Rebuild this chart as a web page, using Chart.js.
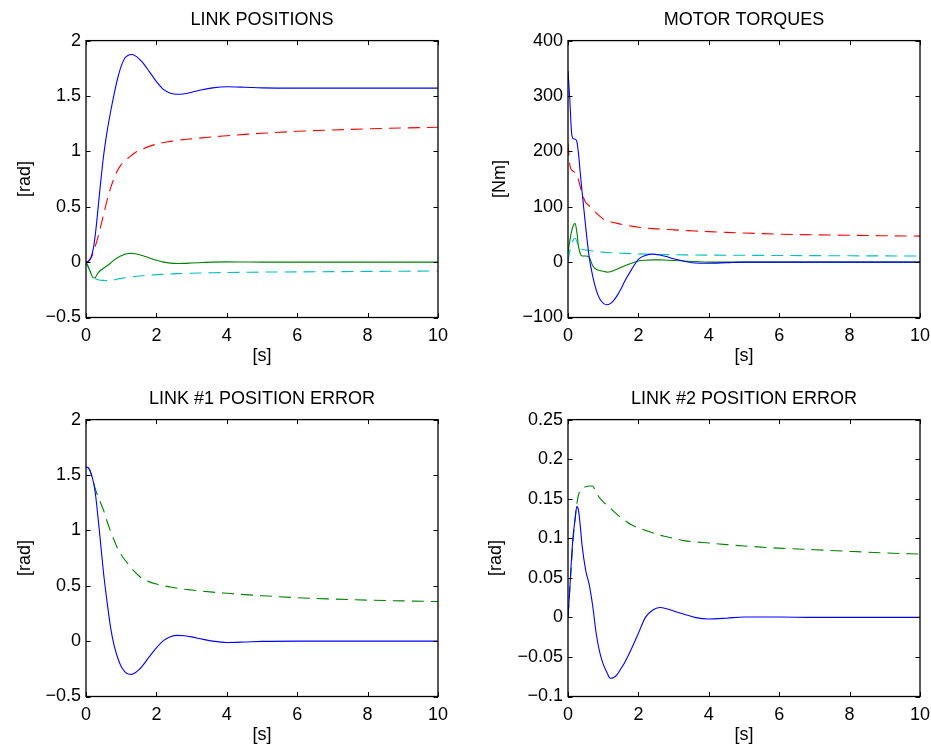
<!DOCTYPE html>
<html>
<head>
<meta charset="utf-8">
<script src="https://cdn.jsdelivr.net/npm/chart.js@4/dist/chart.umd.min.js"></script>
<style>
  html, body { margin: 0; padding: 0; background: #ffffff; }
  body { width: 931px; height: 747px; position: relative; overflow: hidden; }
  .cell { position: absolute; width: 449px; height: 368px; }
  .cell canvas { display: block; }
</style>
</head>
<body>
<div class="cell" style="left:0px;top:0px;"><canvas id="c1" width="449" height="368"></canvas></div>
<div class="cell" style="left:482px;top:0px;"><canvas id="c2" width="449" height="368"></canvas></div>
<div class="cell" style="left:0px;top:379px;"><canvas id="c3" width="449" height="368"></canvas></div>
<div class="cell" style="left:482px;top:379px;"><canvas id="c4" width="449" height="368"></canvas></div>
<script>
// ---------- DATA ----------
const time = [0,0.05,0.1,0.15,0.2,0.25,0.3,0.35,0.4,0.5,0.6,0.7,0.8,0.9,1.0,1.1,1.2,1.3,1.4,1.5,1.6,1.8,2.0,2.2,2.4,2.6,2.8,3.0,3.3,3.6,4.0,4.5,5,6,7,8,9,10];

const xTicks = [0,2,4,6,8,10];
const xTickLabels = ['0','2','4','6','8','10'];

// LINK POSITIONS [rad]
const linkPos1 = [0,0.005,0.02,0.05,0.11,0.21,0.35,0.51,0.67,0.96,1.18,1.36,1.52,1.66,1.77,1.84,1.868,1.874,1.862,1.838,1.805,1.72,1.63,1.56,1.525,1.515,1.52,1.534,1.556,1.573,1.583,1.579,1.573,1.571,1.571,1.571,1.571,1.571];
const linkPos1Ref = [0,0.003,0.015,0.04,0.08,0.13,0.18,0.24,0.30,0.43,0.56,0.67,0.76,0.83,0.88,0.91,0.94,0.965,0.99,1.005,1.02,1.045,1.065,1.08,1.09,1.10,1.107,1.113,1.122,1.131,1.141,1.153,1.163,1.181,1.193,1.203,1.211,1.218];
const linkPos2 = [0,-0.03,-0.07,-0.11,-0.14,-0.143,-0.12,-0.095,-0.078,-0.055,-0.033,-0.008,0.02,0.04,0.057,0.07,0.078,0.079,0.075,0.068,0.06,0.038,0.016,0.0,-0.009,-0.012,-0.011,-0.008,-0.004,0,0.002,0.001,0,0,0,0,0,0];
const linkPos2Ref = [0,-0.035,-0.07,-0.1,-0.125,-0.145,-0.155,-0.16,-0.163,-0.165,-0.167,-0.166,-0.16,-0.153,-0.147,-0.142,-0.137,-0.133,-0.13,-0.126,-0.123,-0.118,-0.113,-0.11,-0.107,-0.104,-0.102,-0.1,-0.098,-0.096,-0.094,-0.092,-0.09,-0.088,-0.086,-0.084,-0.082,-0.08];
const posYTicks = [-0.5,0,0.5,1,1.5,2];
const posYTickLabels = ['\u22120.5','0','0.5','1','1.5','2'];

// MOTOR TORQUES [Nm]
const torque1 = [345,295,235,223,222,218,195,160,127,65,10,-25,-50,-66,-74,-77,-75,-69,-60,-49,-36,-14,5,12,14.5,13,10,6,1.5,-1.5,-2,-1,0,0,0,0,0,0];
const torque1Ref = [214,176,167,164,162,157,148,136,124,108,102,96,89,83,78,75,73,71.5,70,68.5,67.5,65,63,61.5,60.5,59.8,59,58.3,57.3,56.3,55,53.7,52.5,50.5,49.3,48.4,47.6,47];
const torque2 = [18,38,55,66,70,55,28,15,11,11,9,-6,-13,-15,-16.5,-18,-17.5,-15,-12.5,-9.5,-7,-2,2,3.5,4,4,3.5,3,2,1,0,0,0,0,0,0,0,0];
const torque2Ref = [2,20,32,40,43,38,26,23.5,23,22,21,20,19,18.5,18,17.5,17,16.7,16.4,16.1,15.8,15.3,14.8,14.4,14.1,13.8,13.6,13.4,13.1,12.9,12.7,12.5,12.3,12,11.7,11.4,11.2,11];
const torqueYTicks = [-100,0,100,200,300,400];
const torqueYTickLabels = ['\u2212100','0','100','200','300','400'];

// LINK #1 POSITION ERROR [rad]
const err1 = [1.571,1.568,1.55,1.51,1.45,1.37,1.24,1.09,0.93,0.61,0.35,0.12,-0.04,-0.15,-0.23,-0.275,-0.297,-0.30,-0.285,-0.26,-0.225,-0.14,-0.06,0.005,0.04,0.052,0.048,0.038,0.018,0.0,-0.012,-0.008,-0.002,0,0,0,0,0];
const err1Ref = [1.571,1.566,1.55,1.5,1.45,1.39,1.34,1.30,1.26,1.18,1.08,0.99,0.91,0.835,0.78,0.735,0.695,0.655,0.62,0.59,0.565,0.535,0.515,0.50,0.488,0.477,0.468,0.461,0.451,0.442,0.432,0.42,0.41,0.392,0.38,0.37,0.363,0.357];
const err1YTicks = [-0.5,0,0.5,1,1.5,2];
const err1YTickLabels = ['\u22120.5','0','0.5','1','1.5','2'];

// LINK #2 POSITION ERROR [rad]
const err2 = [0,0.035,0.075,0.105,0.123,0.14,0.135,0.115,0.091,0.06,0.042,0.015,-0.02,-0.044,-0.059,-0.069,-0.077,-0.076,-0.072,-0.065,-0.058,-0.04,-0.02,0.0,0.009,0.0125,0.011,0.008,0.004,0.0,-0.002,-0.001,0.0005,0.0005,0,0,0,0];
const err2Ref = [0,0.035,0.068,0.1,0.125,0.143,0.155,0.16,0.163,0.165,0.166,0.166,0.158,0.151,0.146,0.142,0.138,0.134,0.13,0.126,0.123,0.117,0.113,0.11,0.107,0.104,0.102,0.1,0.097,0.0955,0.094,0.092,0.0903,0.0875,0.0855,0.0835,0.0815,0.08];
const err2YTicks = [-0.1,-0.05,0,0.05,0.1,0.15,0.2,0.25];
const err2YTickLabels = ['\u22120.1','\u22120.05','0','0.05','0.1','0.15','0.2','0.25'];

// ---------- RENDERING ----------
const FONT = '"Liberation Sans", Arial, Helvetica, sans-serif';
Chart.defaults.font.family = FONT;
Chart.defaults.font.size = 18;
Chart.defaults.color = '#000000';

const BLUE = '#0000ff', RED = '#ff0000', GREEN = '#008000', CYAN = '#00bfbf';

function pts(ys) { return time.map((t, i) => ({ x: t, y: ys[i] })); }

function series(ys, color, dashed) {
  return {
    data: pts(ys),
    borderColor: color,
    borderWidth: 1.1,
    borderDash: dashed ? [12, 7] : [],
    pointRadius: 0,
    cubicInterpolationMode: 'monotone',
    fill: false
  };
}

// MATLAB-style box with inward ticks on all four sides
const boxPlugin = {
  id: 'matlabBox',
  afterDatasetsDraw(chart) {
    const { ctx, chartArea: a, scales } = chart;
    const L = 4.5;
    ctx.save();
    ctx.strokeStyle = '#000000';
    ctx.lineWidth = 1;
    ctx.beginPath();
    scales.x.ticks.forEach(tk => {
      const px = Math.round(scales.x.getPixelForValue(tk.value)) + 0.5;
      ctx.moveTo(px, a.bottom); ctx.lineTo(px, a.bottom - L);
      ctx.moveTo(px, a.top); ctx.lineTo(px, a.top + L);
    });
    scales.y.ticks.forEach(tk => {
      const py = Math.round(scales.y.getPixelForValue(tk.value)) + 0.5;
      ctx.moveTo(a.left, py); ctx.lineTo(a.left + L, py);
      ctx.moveTo(a.right, py); ctx.lineTo(a.right - L, py);
    });
    ctx.stroke();
    ctx.lineWidth = 1.3;
    ctx.strokeRect(a.left, a.top, a.right - a.left, a.bottom - a.top);
    ctx.restore();
  }
};

function makeChart(id, title, yLabel, yMin, yMax, yTicks, yTickLabels, yTitlePad, datasets) {
  return new Chart(document.getElementById(id), {
    type: 'line',
    data: { datasets },
    plugins: [boxPlugin],
    options: {
      responsive: false,
      animation: false,
      devicePixelRatio: 1,
      layout: { padding: { left: 0, right: 11, top: 0, bottom: 0 } },
      plugins: {
        legend: { display: false },
        tooltip: { enabled: false },
        title: {
          display: true,
          text: title,
          fullSize: false,
          color: '#000000',
          font: { family: FONT, size: 18, weight: 'normal' },
          padding: { top: 9, bottom: 10 }
        }
      },
      scales: {
        x: {
          type: 'linear',
          min: 0, max: 10,
          afterFit: s => { s.height = 50.5; s.paddingLeft = 0; s.paddingRight = 0; },
          afterBuildTicks: s => { s.ticks = xTicks.map(v => ({ value: v })); },
          grid: { display: false, drawTicks: false },
          border: { display: false },
          ticks: {
            autoSkip: false, maxRotation: 0, padding: 8,
            font: { family: FONT, size: 18 },
            callback: (v, i) => xTickLabels[i]
          },
          title: {
            display: true, text: '[s]',
            font: { family: FONT, size: 18 },
            padding: { top: 0, bottom: 1 }
          }
        },
        y: {
          type: 'linear',
          min: yMin, max: yMax,
          afterFit: s => { s.width = 86; s.paddingTop = 0; s.paddingBottom = 0; },
          afterBuildTicks: s => { s.ticks = yTicks.map(v => ({ value: v })); },
          grid: { display: false, drawTicks: false },
          border: { display: false },
          ticks: {
            autoSkip: false, padding: 5,
            font: { family: FONT, size: 18 },
            callback: (v, i) => yTickLabels[i]
          },
          title: {
            display: true, text: yLabel,
            font: { family: FONT, size: 18 },
            padding: { top: yTitlePad, bottom: 0 }
          }
        }
      }
    }
  });
}

makeChart('c1', 'LINK POSITIONS', '[rad]', -0.5, 2, posYTicks, posYTickLabels, 14, [
  series(linkPos1, BLUE, false),
  series(linkPos1Ref, RED, true),
  series(linkPos2, GREEN, false),
  series(linkPos2Ref, CYAN, true)
]);
makeChart('c2', 'MOTOR TORQUES', '[Nm]', -100, 400, torqueYTicks, torqueYTickLabels, 7.5, [
  series(torque1, BLUE, false),
  series(torque1Ref, RED, true),
  series(torque2, GREEN, false),
  series(torque2Ref, CYAN, true)
]);
makeChart('c3', 'LINK #1 POSITION ERROR', '[rad]', -0.5, 2, err1YTicks, err1YTickLabels, 14, [
  series(err1, BLUE, false),
  series(err1Ref, GREEN, true)
]);
makeChart('c4', 'LINK #2 POSITION ERROR', '[rad]', -0.1, 0.25, err2YTicks, err2YTickLabels, 3, [
  series(err2, BLUE, false),
  series(err2Ref, GREEN, true)
]);
</script>
</body>
</html>
